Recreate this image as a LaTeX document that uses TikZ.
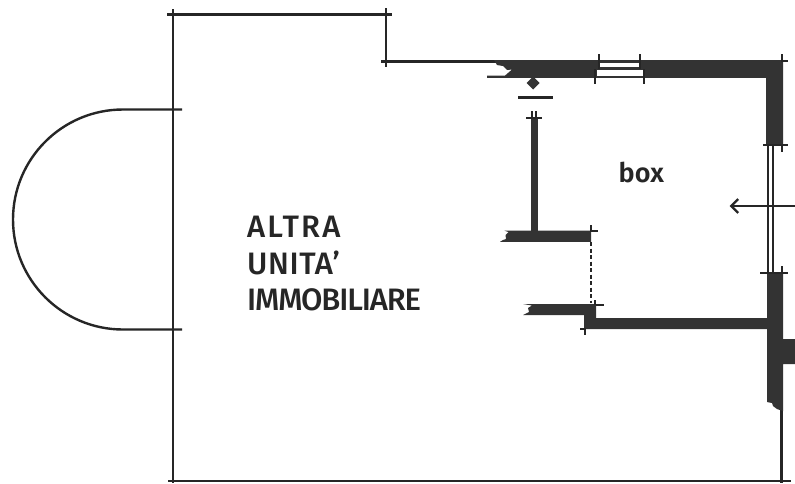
\documentclass[tikz,border=0pt]{standalone}
\usepackage{fontspec}
\setmainfont[UprightFont={* Medium}]{Fira Sans}
\newfontfamily\boxfont{Fira Sans SemiBold}
\usetikzlibrary{arrows.meta}
\definecolor{wallgrey}{HTML}{333333}
\definecolor{inkgrey}{HTML}{262626}

\begin{document}
\begin{tikzpicture}[x = 1pt, y = -1pt, line width = 2.4pt, inkgrey,
		wall/.style = {fill = wallgrey, draw = none},
		hole/.style = {fill = white, draw = none},
		thinline/.style = {line width = 2pt},
		unitlabel/.style = {inner sep = 0pt, anchor = north west, align = left, text = inkgrey,
			font = \fontsize{31}{36.5}\selectfont},
		boxlabel/.style = {inner sep = 0pt, anchor = base west, text = inkgrey,
			font = \boxfont\fontsize{27}{30}\selectfont}]
		\useasboundingbox (0,0) rectangle (795,483);
		\fill [white] (0,0) rectangle (795,483);

		\draw (173,9) -- (173,483);
		\draw (167,14.5) -- (392,14.5);
		\draw (386,8) -- (386,67);
		\draw (381,61.5) -- (496,61.5);
		\draw (182,109.5) -- (123,109.5) arc[start angle = 90, end angle = 270, radius = 110pt] -- (182,329.5);
		\draw (168,481) -- (791,481);
		\draw (781.5,405) -- (781.5,483);

		\fill [wall] (494,60) -- (783,60) -- (783,145) -- (766,145) -- (766,77.8) -- (487,77.8)
			-- (487,75.6) -- (505,75.6) -- (512,69.5) -- (507,70) -- (503,66) -- (497,65) -- cycle;
		\fill [wall] (533,76.5) -- (539.5,83) -- (533,89.5) -- (526.5,83) -- cycle;
		\fill [hole] (600,63) rectangle (639,67);
		\fill [hole] (597,69.5) rectangle (643,76);
		\draw [thinline] (599,54) -- (599,68.5);
		\draw [thinline] (640,54) -- (640,68.5);
		\draw [thinline] (595,69) -- (595,84);
		\draw [thinline] (644,69) -- (644,84);
		\draw [thinline] (782,54) -- (782,62) (782,61) -- (788,61);
		\draw (518,97.5) -- (553,97.5);

		\fill [wall] (531,117) rectangle (538,231);
		\draw [thinline] (526,118) -- (541.5,118);
		\draw [thinline] (531.7,111) -- (531.7,118) (536,111) -- (536,118);
		\fill [wall] (504.5,230.7) -- (591,230.7) -- (591,241.8) -- (500,241.8) -- (503,240) -- (506,239) -- (505.5,235) -- (508.5,232) -- cycle;
		\draw [thinline] (591,225) -- (591,231) -- (598,231);
		\draw [dash pattern = on 4pt off 2.5pt] (591,242) -- (591,303);

		\fill [wall] (523,304) -- (596,304) -- (596,318) -- (767,318) -- (767,273) -- (783,273) -- (783,339) -- (795,339) -- (795,364)
			-- (783,364) -- (783,411) -- (777,409) -- (773,406) -- (772,403) -- (767,402) -- (767,329) -- (584,329) -- (584,315)
			-- (523,315) -- (527,313) -- (529,312) -- (528,308) -- (532,305.5) -- cycle;
		\draw [thinline] (595,300) -- (595,304.5) (596,304.5) -- (604,304.5);
		\draw [thinline] (580,328.5) -- (586,328.5) (585,328.5) -- (585,335);

		\draw [thinline] (767.7,145) -- (767.7,273);
		\draw [thinline] (773,145) -- (773,273);
		\draw [thinline] (763,145) -- (788,145) (782,145) -- (782,152);
		\draw [thinline] (760,273) -- (788,273) (782,266) -- (782,273);
		\draw [-{Straight Barb[length = 7pt, width = 14pt]}] (795,206) -- (729.5,206);

		\node [unitlabel] (altra) at (246,215) {\addfontfeature{LetterSpace = 7}ALTRA\\\addfontfeature{LetterSpace = 2}UNITA’\\\addfontfeature{LetterSpace = -3.6}IMMOBILIARE};
		\node [boxlabel] (box) at (617.5,182) {box};
	\end{tikzpicture}
\end{document}
